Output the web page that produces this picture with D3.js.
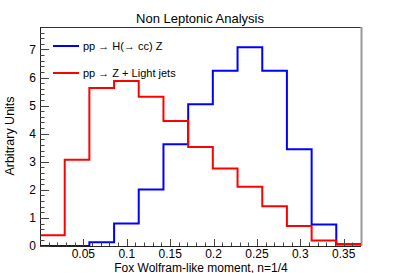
<!DOCTYPE html>
<html>
<head>
<meta charset="utf-8">
<script src="https://cdn.jsdelivr.net/npm/d3@7"></script>
<style>
  html, body { margin: 0; padding: 0; background: #fff; }
  svg { display: block; font-family: "Liberation Sans", Arial, Helvetica, sans-serif; }
</style>
</head>
<body>
<svg id="chart" width="401" height="273"></svg>
<script>
// ---- data ----
const binEdges = [0, 0.0285, 0.0569, 0.0854, 0.1138, 0.1423, 0.1708, 0.1992, 0.2277, 0.2562, 0.2846, 0.3131, 0.3415, 0.37];
const hccValues   = [0.0, 0.0, 0.13, 0.8, 2.01, 3.62, 5.05, 6.24, 7.08, 6.24, 3.45, 0.77, 0.06];
const lightValues = [0.38, 3.07, 5.63, 5.88, 5.32, 4.45, 3.53, 2.76, 2.11, 1.42, 0.71, 0.2, 0.05];
const seriesNames = ["pp \u2192 H(\u2192 cc) Z", "pp \u2192  Z + Light jets"];
const xTickValues = [0.05, 0.1, 0.15, 0.2, 0.25, 0.3, 0.35];
const xTickLabels = ["0.05", "0.1", "0.15", "0.2", "0.25", "0.3", "0.35"];
const yTickValues = [0, 1, 2, 3, 4, 5, 6, 7];
const yTickLabels = ["0", "1", "2", "3", "4", "5", "6", "7"];
const title = "Non Leptonic Analysis";
const xTitle = "Fox Wolfram-like moment, n=1/4";
const yTitle = "Arbitrary Units";

// ---- layout ----
const L = 40, R = 361, T = 27, B = 246;
const svg = d3.select("#chart");
const x = d3.scaleLinear().domain([0, 0.37]).range([L, R]);
const y = d3.scaleLinear().domain([0, 7.8]).range([B, T]);

svg.append("defs").append("clipPath").attr("id", "clip")
  .append("rect").attr("x", L).attr("y", T - 1).attr("width", R - L).attr("height", B - T + 1);

// frame
svg.append("line").attr("x1", L).attr("x2", R).attr("y1", T + 0.5).attr("y2", T + 0.5)
  .attr("stroke", "#333").attr("stroke-width", 1);
svg.append("line").attr("x1", R + 0.5).attr("x2", R + 0.5).attr("y1", T).attr("y2", B)
  .attr("stroke", "#999").attr("stroke-width", 2);

// histograms
function stepPoints(vals) {
  const pts = vals.map((v, i) => [binEdges[i], v]);
  pts.push([binEdges[binEdges.length - 1], vals[vals.length - 1]]);
  return pts;
}
const line = d3.line().x(d => x(d[0])).y(d => y(d[1])).curve(d3.curveStepAfter);
const g = svg.append("g").attr("clip-path", "url(#clip)");
g.append("path").attr("d", line(stepPoints(hccValues)))
  .attr("fill", "none").attr("stroke", "#0000ff").attr("stroke-width", 2);
g.append("path").attr("d", line(stepPoints(lightValues)))
  .attr("fill", "none").attr("stroke", "#ff0000").attr("stroke-width", 2);

// axes lines
svg.append("line").attr("x1", L + 0.5).attr("x2", L + 0.5).attr("y1", T).attr("y2", B)
  .attr("stroke", "#222").attr("stroke-width", 1);
svg.append("line").attr("x1", L).attr("x2", R).attr("y1", B + 0.5).attr("y2", B + 0.5)
  .attr("stroke", "#222").attr("stroke-width", 1);

// y ticks
const yMinor = d3.range(0, 7.8, 0.2).filter(v => Math.abs(v - Math.round(v)) > 1e-6);
svg.append("g").selectAll("line").data(yMinor).join("line")
  .attr("x1", L).attr("x2", L + 4.5)
  .attr("y1", d => Math.round(y(d)) + 0.5).attr("y2", d => Math.round(y(d)) + 0.5)
  .attr("stroke", "#444");
svg.append("g").selectAll("line").data(yTickValues).join("line")
  .attr("x1", L).attr("x2", L + 9)
  .attr("y1", d => Math.round(y(d)) + 0.5).attr("y2", d => Math.round(y(d)) + 0.5)
  .attr("stroke", "#444");
svg.append("g").selectAll("text").data(yTickValues).join("text")
  .attr("x", 36).attr("y", d => y(d)).attr("dy", "0.36em")
  .attr("text-anchor", "end").attr("font-size", 12).attr("fill", "#000")
  .text((d, i) => yTickLabels[i]);

// x ticks
const xMinor = d3.range(0.01, 0.37, 0.01).filter(v => Math.abs(v / 0.05 - Math.round(v / 0.05)) > 1e-6);
svg.append("g").selectAll("line").data(xMinor).join("line")
  .attr("x1", d => Math.round(x(d)) + 0.5).attr("x2", d => Math.round(x(d)) + 0.5)
  .attr("y1", B).attr("y2", B - 3.5)
  .attr("stroke", "#444");
svg.append("g").selectAll("line").data(xTickValues).join("line")
  .attr("x1", d => Math.round(x(d)) + 0.5).attr("x2", d => Math.round(x(d)) + 0.5)
  .attr("y1", B).attr("y2", B - 7)
  .attr("stroke", "#444");
svg.append("g").selectAll("text").data(xTickValues).join("text")
  .attr("x", d => x(d)).attr("y", 257.5)
  .attr("text-anchor", "middle").attr("font-size", 12).attr("fill", "#000")
  .text((d, i) => xTickLabels[i]);

// titles
svg.append("text").attr("x", 200).attr("y", 23).attr("text-anchor", "middle")
  .attr("font-size", 13).attr("fill", "#000").text(title);
svg.append("text").attr("x", 201).attr("y", 271.5).attr("text-anchor", "middle")
  .attr("font-size", 12).attr("fill", "#000").text(xTitle);
svg.append("text").attr("transform", "translate(13.5,136) rotate(-90)")
  .attr("text-anchor", "middle").attr("font-size", 12.5).attr("fill", "#000").text(yTitle);

// legend
const legendColors = ["#0000ff", "#ff0000"];
const legendY = [46, 73];
const lg = svg.append("g");
seriesNames.forEach((name, i) => {
  lg.append("line").attr("x1", 53).attr("x2", 79).attr("y1", legendY[i]).attr("y2", legendY[i])
    .attr("stroke", legendColors[i]).attr("stroke-width", 2);
  lg.append("text").attr("x", 83).attr("y", legendY[i]).attr("dy", "0.35em")
    .attr("font-size", 11).attr("fill", "#000").text(name);
});
</script>
</body>
</html>
